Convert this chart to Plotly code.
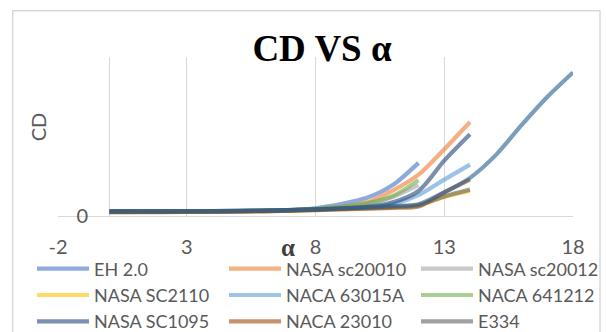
import plotly.graph_objects as go

# Angle of attack (deg) sampled for each polar
alpha_to12 = [0, 2, 4, 6, 8, 10, 11, 12]
alpha_to14 = [0, 2, 4, 6, 8, 10, 11, 12, 13, 14]
alpha_to18 = [0, 2, 4, 6, 8, 10, 11, 12, 13, 14, 15, 16, 17, 18]

# Drag coefficient per airfoil
cd_eh20 = [0.0095, 0.0098, 0.0105, 0.0120, 0.0170, 0.040, 0.068, 0.117]
cd_sc20010 = [0.0085, 0.0088, 0.0095, 0.0108, 0.0140, 0.030, 0.056, 0.091, 0.147, 0.207]
cd_sc20012 = [0.0095, 0.0098, 0.0104, 0.0115, 0.0150, 0.027, 0.042, 0.068]
cd_sc2110 = [0.0090, 0.0092, 0.0098, 0.0108, 0.0135, 0.017, 0.019, 0.023, 0.042, 0.055]
cd_63015a = [0.0098, 0.0100, 0.0105, 0.0115, 0.0145, 0.019, 0.026, 0.046, 0.080, 0.113]
cd_641212 = [0.0100, 0.0102, 0.0108, 0.0120, 0.0155, 0.028, 0.044, 0.079]
cd_sc1095 = [0.0100, 0.0102, 0.0108, 0.0118, 0.0145, 0.020, 0.030, 0.055, 0.122, 0.180]
cd_23010 = [0.0085, 0.0087, 0.0092, 0.0102, 0.0130, 0.016, 0.018, 0.021, 0.052, 0.080]
cd_e334 = [0.0098, 0.0100, 0.0105, 0.0115, 0.0140, 0.018, 0.020, 0.024, 0.043, 0.058]
cd_series10 = [0.0100, 0.0102, 0.0107, 0.0117, 0.0145, 0.019, 0.022, 0.026, 0.052, 0.084,
               0.134, 0.200, 0.262, 0.316]

series = [
    ("EH 2.0", alpha_to12, cd_eh20, "#4472C4", True),
    ("NASA sc20010", alpha_to14, cd_sc20010, "#ED7D31", True),
    ("NASA sc20012", alpha_to12, cd_sc20012, "#A5A5A5", True),
    ("NASA SC2110", alpha_to14, cd_sc2110, "#FFC000", True),
    ("NACA 63015A", alpha_to14, cd_63015a, "#5B9BD5", True),
    ("NACA 641212", alpha_to12, cd_641212, "#70AD47", True),
    ("NASA SC1095", alpha_to14, cd_sc1095, "#264478", True),
    ("NACA 23010", alpha_to14, cd_23010, "#9E480E", True),
    ("E334", alpha_to14, cd_e334, "#636363", True),
    ("Series10", alpha_to18, cd_series10, "#255E91", False),
]

x_ticks = [-2, 3, 8, 13, 18]
x_tick_labels = ["-2", "3", "8", "13", "18"]
TXT = "#595959"
SANS = "Lato, sans-serif"

fig = go.Figure()
for name, xs, ys, color, show in series:
    fig.add_trace(go.Scatter(
        x=xs, y=ys, name=name, mode="lines", showlegend=show,
        line=dict(color=color, width=4.2, shape="spline", smoothing=0.8),
        opacity=0.6,
    ))

W, H = 606, 332
L, R, T, B = 58, 33, 57, 115.5
pw, ph = W - L - R, H - T - B

def px(xp):
    return (xp - L) / pw

def py(yp):
    return (H - B - yp) / ph

fig.update_layout(
    width=W, height=H,
    margin=dict(l=L, r=R, t=T, b=B, pad=0, autoexpand=False),
    paper_bgcolor="white", plot_bgcolor="white",
    title=dict(text="<b>CD VS α</b>", x=322 / W, xanchor="center",
               y=1 - 48 / H, yanchor="middle", yref="container", xref="container",
               font=dict(family="Liberation Serif, serif", size=37, color="black")),
    xaxis=dict(range=[-2, 18], tickvals=x_ticks, ticktext=x_tick_labels, ticks="",
               showgrid=True, gridcolor="#D9D9D9", gridwidth=1.3, zeroline=True,
               zerolinecolor="#D9D9D9", zerolinewidth=1.3,
               showline=True, linecolor="#D9D9D9", linewidth=1.3,
               ticklabelstandoff=13,
               tickfont=dict(family=SANS, size=20, color=TXT)),
    yaxis=dict(range=[0, 0.35], tickvals=[0], ticktext=["0"], ticks="",
               showgrid=False, zeroline=False, showline=False,
               ticklabelstandoff=-31,
               tickfont=dict(family=SANS, size=20, color=TXT)),
    legend=dict(orientation="h", x=px(32), xanchor="left", xref="paper",
                y=py(251), yanchor="top", yref="paper",
                entrywidth=125, entrywidthmode="pixels", itemwidth=52,
                font=dict(family=SANS, size=18, color=TXT),
                bgcolor="rgba(0,0,0,0)", tracegroupgap=0),
    annotations=[
        dict(text="CD", x=px(38), y=py(127.5), xref="paper", yref="paper",
             showarrow=False, textangle=-90, xanchor="center", yanchor="middle",
             font=dict(family=SANS, size=20, color=TXT)),
        dict(text="<b>α</b>", x=px(288), y=py(248), xref="paper", yref="paper",
             showarrow=False, xanchor="center", yanchor="middle",
             font=dict(family="Liberation Serif, serif", size=25, color="#404040")),
    ],
    shapes=[
        dict(type="rect", xref="paper", yref="paper",
             x0=px(12.7), x1=px(600), y0=py(345), y1=py(10.7),
             line=dict(color="#D9D9D9", width=1.5), fillcolor="rgba(0,0,0,0)",
             layer="below"),
    ],
)

fig.write_html("out.html")
